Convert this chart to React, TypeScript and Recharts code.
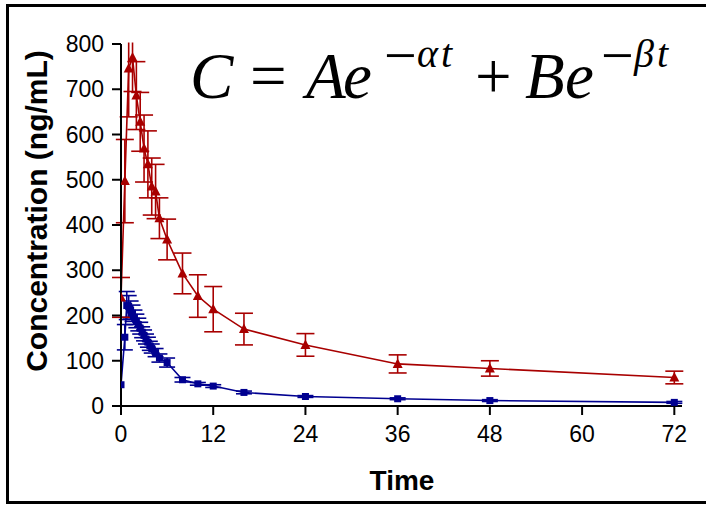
import { LineChart, Line, XAxis, YAxis, ErrorBar } from "recharts";

// 2-compartment PK curve: mean ± SD for two dose groups.

const X_TICKS = [0, 12, 24, 36, 48, 60, 72];
const Y_TICKS = [0, 100, 200, 300, 400, 500, 600, 700, 800];

const RED_T = [0, 0.5, 1, 1.5, 2, 2.5, 3, 3.5, 4, 4.5, 5, 6, 8, 10, 12, 16, 24, 36, 48, 72];
const RED_MEAN = [240, 497, 746, 770, 686, 628, 569, 534, 485, 474, 415, 368, 293, 243, 214, 170, 135, 93, 83, 63];
const RED_SD = [44, 92, 107, 75, 75, 65, 74, 74, 63, 60, 45, 45, 45, 47, 50, 35, 25, 20, 17, 14];

const BLUE_T = [0, 0.5, 0.75, 1, 1.25, 1.5, 1.75, 2, 2.25, 2.5, 2.75, 3, 3.25, 3.5, 3.75, 4, 4.5, 5, 6, 8, 10, 12, 16, 24, 36, 48, 72];
const BLUE_MEAN = [47, 152, 222, 220, 212, 205, 196, 188, 180, 172, 163, 156, 148, 141, 133, 127, 118, 106, 96, 58, 49, 44, 30, 21, 16, 12, 8];
const BLUE_SD = [0, 28, 31, 24, 20, 18, 16, 15, 14, 13, 12, 12, 11, 11, 10, 10, 9, 9, 10, 5, 3, 3, 3, 2, 2, 2, 2];

const RED = "#a80000";
const BLUE = "#000090";

const redData = RED_T.map((t, i) => ({ t, c: RED_MEAN[i], sd: RED_SD[i] }));
const blueData = BLUE_T.map((t, i) => ({ t, c: BLUE_MEAN[i], sd: BLUE_SD[i] }));

function Triangle(props: any) {
  const { cx, cy, index } = props;
  if (cx == null || cy == null) return <g key={`r${index}`} />;
  return <path key={`r${index}`} d={`M${cx},${cy - 5.5}L${cx + 5},${cy + 4}L${cx - 5},${cy + 4}Z`} fill={RED} />;
}

function Square(props: any) {
  const { cx, cy, index } = props;
  if (cx == null || cy == null) return <g key={`b${index}`} />;
  return <rect key={`b${index}`} x={cx - 3.5} y={cy - 3.5} width={7} height={7} fill={BLUE} />;
}

const serif = "'Liberation Serif', 'Times New Roman', serif";
const sans = "'Liberation Sans', Arial, sans-serif";

export default function App() {
  return (
    <div style={{ position: "absolute", left: 0, top: 0, width: 706, height: 506, overflow: "hidden", background: "#fff" }}>
      <div
        style={{
          position: "absolute",
          left: 6,
          top: 4,
          width: 720,
          height: 500,
          border: "3px solid #000",
          boxSizing: "border-box",
        }}
      />
      <div style={{ position: "absolute", left: 0, top: 0 }}>
        <LineChart width={706} height={506} margin={{ top: 44, right: 24, bottom: 0, left: 0 }}>
          <XAxis
            type="number"
            dataKey="t"
            domain={[0, 73]}
            ticks={X_TICKS}
            allowDataOverflow
            height={100}
            tickSize={9}
            tickMargin={11}
            tick={{ fontSize: 23, fill: "#000", fontFamily: sans }}
            axisLine={{ stroke: "#000", strokeWidth: 2 }}
            tickLine={{ stroke: "#000", strokeWidth: 2 }}
          />
          <YAxis
            type="number"
            domain={[0, 800]}
            ticks={Y_TICKS}
            allowDataOverflow
            width={121}
            tickSize={9}
            tickMargin={8}
            tick={{ fontSize: 23, fill: "#000", fontFamily: sans }}
            axisLine={{ stroke: "#000", strokeWidth: 2 }}
            tickLine={{ stroke: "#000", strokeWidth: 2 }}
          />
          <Line
            data={blueData}
            dataKey="c"
            stroke={BLUE}
            strokeWidth={1.6}
            dot={Square}
            activeDot={false}
            isAnimationActive={false}
          >
            <ErrorBar dataKey="sd" direction="y" width={8} stroke={BLUE} strokeWidth={1.6} isAnimationActive={false} />
          </Line>
          <Line
            data={redData}
            dataKey="c"
            stroke={RED}
            strokeWidth={1.6}
            dot={Triangle}
            activeDot={false}
            isAnimationActive={false}
          >
            <ErrorBar dataKey="sd" direction="y" width={9} stroke={RED} strokeWidth={1.6} isAnimationActive={false} />
          </Line>
        </LineChart>
      </div>
      <svg width={706} height={506} style={{ position: "absolute", left: 0, top: 0, pointerEvents: "none" }}>
        {/* error bars above the 800 top are cut off at the plot edge */}
        <rect x={106} y={8} width={50} height={34.5} fill="#fff" />
        <text
          x={36}
          y={211}
          transform="rotate(-90 36 211)"
          textAnchor="middle"
          dominantBaseline="central"
          fontFamily={sans}
          fontWeight="bold"
          fontSize={30}
        >
          Concentration (ng/mL)
        </text>
        <text x={402} y={490} textAnchor="middle" fontFamily={sans} fontWeight="bold" fontSize={28}>
          Time
        </text>
        <g fontFamily={serif} fill="#000">
          <text x={190} y={98} fontSize={65} fontStyle="italic">C</text>
          <text x={250} y={98} fontSize={65}>=</text>
          <text x={306} y={98} fontSize={65} fontStyle="italic">A</text>
          <text x={343} y={98} fontSize={65} fontStyle="italic">e</text>
          <text x={384} y={75} fontSize={58}>−</text>
          <text x={417} y={67} fontSize={40} fontStyle="italic">α</text>
          <text x={441} y={67} fontSize={40} fontStyle="italic">t</text>
          <text x={475} y={98} fontSize={65}>+</text>
          <text x={525} y={98} fontSize={65} fontStyle="italic">B</text>
          <text x={565} y={98} fontSize={65} fontStyle="italic">e</text>
          <text x={601} y={75} fontSize={58}>−</text>
          <text x={634} y={67} fontSize={40} fontStyle="italic">β</text>
          <text x={657} y={67} fontSize={40} fontStyle="italic">t</text>
        </g>
      </svg>
    </div>
  );
}
